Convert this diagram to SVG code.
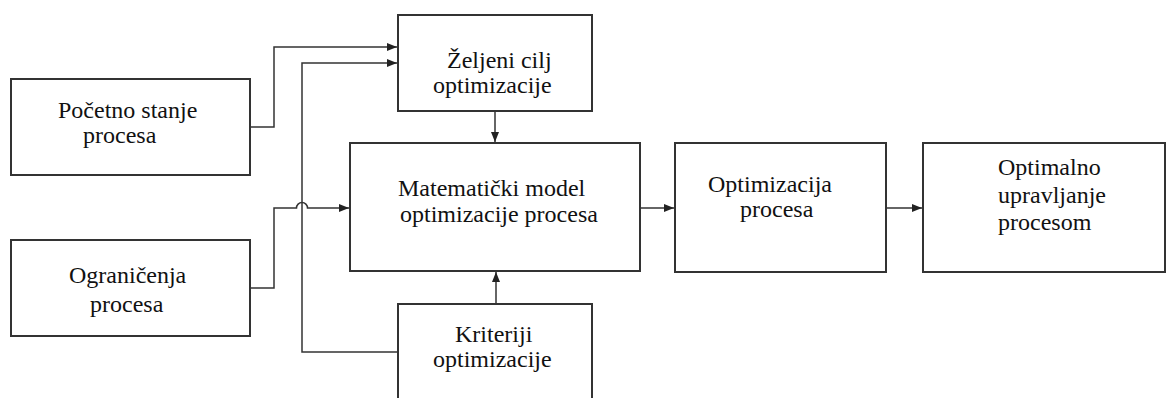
<svg xmlns="http://www.w3.org/2000/svg" width="1168" height="398" viewBox="0 0 1168 398">
<style>
.box{fill:#fff;stroke:#333;stroke-width:2}
.lbl{font-family:"Liberation Serif","Times New Roman",serif;font-size:24px;fill:#111}
.conn{fill:none;stroke:#333;stroke-width:1.5}
</style>
<defs>
<marker id="arr" viewBox="0 0 10 8" refX="10" refY="4" markerWidth="10" markerHeight="8" markerUnits="userSpaceOnUse" orient="auto">
<path d="M0,0 L10,4 L0,8 Z" fill="#222"/>
</marker>
</defs>
<rect width="1168" height="398" fill="#fff"/>
<g id="connectors">
<path class="conn" d="M250,127 H274 V47 H397" marker-end="url(#arr)"/>
<path class="conn" d="M398,352 H302 V63 H397" marker-end="url(#arr)"/>
<path class="conn" d="M250,288 H274 V208 H296.5 A5.5,5.5 0 0 1 307.5,208 H349" marker-end="url(#arr)"/>
<path class="conn" d="M495,111 V142" marker-end="url(#arr)"/>
<path class="conn" d="M496,304 V272" marker-end="url(#arr)"/>
<path class="conn" d="M640,208 H674" marker-end="url(#arr)"/>
<path class="conn" d="M886,208 H922" marker-end="url(#arr)"/>
</g>
<g id="pocetno">
<rect class="box" x="11" y="79" width="239" height="96"/>
<text class="lbl" x="58" y="118">Početno stanje</text>
<text class="lbl" x="83" y="143">procesa</text>
</g>
<g id="ogranicenja">
<rect class="box" x="11" y="240" width="239" height="96"/>
<text class="lbl" x="69" y="283">Ograničenja</text>
<text class="lbl" x="90" y="312">procesa</text>
</g>
<g id="zeljeni">
<rect class="box" x="398" y="15" width="194" height="96"/>
<text class="lbl" x="447" y="68">Željeni cilj</text>
<text class="lbl" x="433" y="93">optimizacije</text>
</g>
<g id="matematicki">
<rect class="box" x="350" y="143" width="290" height="128"/>
<text class="lbl" x="398" y="196">Matematički model</text>
<text class="lbl" x="400" y="222">optimizacije procesa</text>
</g>
<g id="kriteriji">
<rect class="box" x="398" y="304" width="194" height="110"/>
<text class="lbl" x="455" y="342">Kriteriji</text>
<text class="lbl" x="433" y="367">optimizacije</text>
</g>
<g id="optimizacija">
<rect class="box" x="675" y="143" width="211" height="129"/>
<text class="lbl" x="708" y="192">Optimizacija</text>
<text class="lbl" x="740" y="217">procesa</text>
</g>
<g id="optimalno">
<rect class="box" x="923" y="143" width="242" height="129"/>
<text class="lbl" x="998" y="175">Optimalno</text>
<text class="lbl" x="998" y="203">upravljanje</text>
<text class="lbl" x="998" y="230">procesom</text>
</g>
</svg>
